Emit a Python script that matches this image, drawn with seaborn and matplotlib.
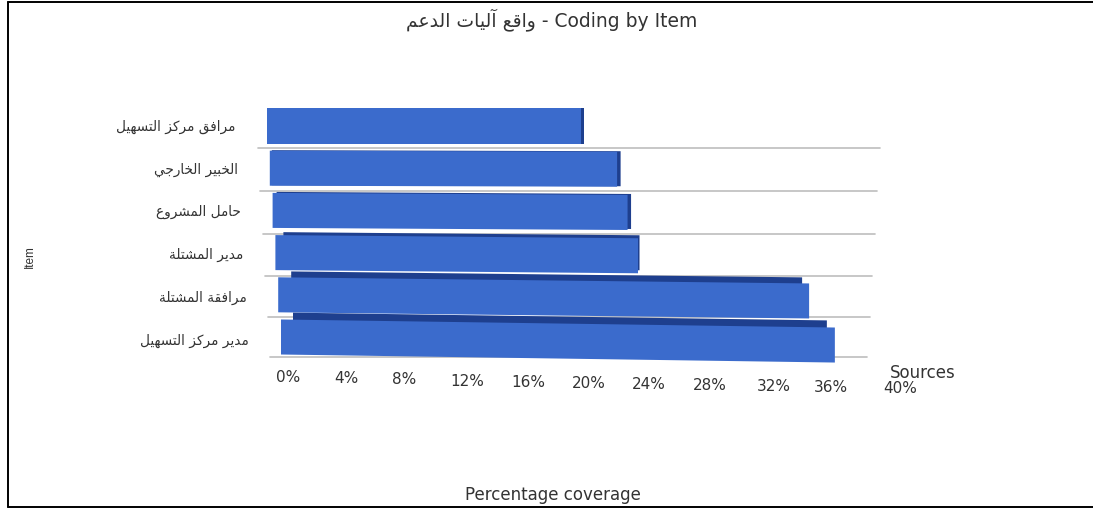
import matplotlib
matplotlib.use("Agg")
import matplotlib.pyplot as plt
import seaborn as sns
from matplotlib.lines import Line2D
from matplotlib.transforms import Affine2D

# ---------- data ----------
items = ["مرافق مركز التسهيل", "الخبير الخارجي", "حامل المشروع",
         "مدير المشتلة", "مرافقة المشتلة", "مدير مركز التسهيل"]
coverage = [20.5, 22.7, 23.2, 23.7, 34.7, 36.2]
tick_values = [0, 4, 8, 12, 16, 20, 24, 28, 32, 36, 40]
tick_labels = [f"{v}%" for v in tick_values]
title_ar = "واقع آليات الدعم"
title_en = " - Coding by Item"

# ---------- Arabic shaping (isolated, final, initial, medial) ----------
FORMS = {
    "ا": (0xFE8D, 0xFE8E), "آ": (0xFE81, 0xFE82), "د": (0xFEA9, 0xFEAA),
    "ر": (0xFEAD, 0xFEAE), "ز": (0xFEAF, 0xFEB0), "و": (0xFEED, 0xFEEE),
    "ة": (0xFE93, 0xFE94), "ب": (0xFE8F, 0xFE90, 0xFE91, 0xFE92),
    "ت": (0xFE95, 0xFE96, 0xFE97, 0xFE98), "ج": (0xFE9D, 0xFE9E, 0xFE9F, 0xFEA0),
    "ح": (0xFEA1, 0xFEA2, 0xFEA3, 0xFEA4), "خ": (0xFEA5, 0xFEA6, 0xFEA7, 0xFEA8),
    "س": (0xFEB1, 0xFEB2, 0xFEB3, 0xFEB4), "ش": (0xFEB5, 0xFEB6, 0xFEB7, 0xFEB8),
    "ع": (0xFEC9, 0xFECA, 0xFECB, 0xFECC), "ف": (0xFED1, 0xFED2, 0xFED3, 0xFED4),
    "ق": (0xFED5, 0xFED6, 0xFED7, 0xFED8), "ك": (0xFED9, 0xFEDA, 0xFEDB, 0xFEDC),
    "ل": (0xFEDD, 0xFEDE, 0xFEDF, 0xFEE0), "م": (0xFEE1, 0xFEE2, 0xFEE3, 0xFEE4),
    "ه": (0xFEE9, 0xFEEA, 0xFEEB, 0xFEEC), "ي": (0xFEF1, 0xFEF2, 0xFEF3, 0xFEF4),
}


def shape(text):
    out = []
    for i, ch in enumerate(text):
        if ch not in FORMS:
            out.append(ch)
            continue
        prev = text[i - 1] if i else " "
        nxt = text[i + 1] if i + 1 < len(text) else " "
        joins_prev = prev in FORMS and len(FORMS[prev]) == 4
        joins_next = nxt in FORMS and len(FORMS[ch]) == 4
        f = FORMS[ch]
        if joins_prev and joins_next:
            code = f[3]
        elif joins_prev:
            code = f[1]
        elif joins_next:
            code = f[2]
        else:
            code = f[0]
        out.append(chr(code))
    return "".join(reversed(out))


# ---------- figure ----------
W, H = 1093, 510
sns.set_theme(style="white")
plt.rcParams["font.family"] = ["DejaVu Sans"]
fig = plt.figure(figsize=(W / 100, H / 100), dpi=100, facecolor="white")

AX_L, PX_PER = 267.0, 15.3
AX_T, ROW_H = 105.9, 42.2
ax = fig.add_axes([AX_L / W, 1 - (AX_T + 6 * ROW_H) / H, PX_PER * 40 / W, 6 * ROW_H / H])
ax.patch.set_alpha(0)

FRONT, DARK = "#3B6BCC", "#1E3F8E"
shown = [shape(s) for s in items]
sns.barplot(x=coverage, y=shown, color=DARK, saturation=1, width=0.83, orient="h", ax=ax, linewidth=0)
sns.barplot(x=coverage, y=shown, color=FRONT, saturation=1, width=0.83, orient="h", ax=ax, linewidth=0)
ax.set_xlim(0, 40)
ax.set_ylim(5.5, -0.5)

# perspective: each row gets its own shift / slope in pixel space
row_shift = [2.8 * r for r in range(6)]
row_slope = [0.0029 * r for r in range(6)]
top_depth = [0, 0.5, 1, 3, 6, 7]
left_inset = [3, 2, 4, 8, 13, 12]
right_extra = [3.5, 3.5, 3.5, 1.5, -7, -8]


def front_tf(r):
    l = AX_L + row_shift[r]
    s = row_slope[r]
    return Affine2D().translate(row_shift[r], 0) + Affine2D.from_values(1, -s, 0, 1, 0, s * l)


patches = list(ax.patches)
for r in range(6):
    dark, front = patches[r], patches[r + 6]
    w = PX_PER * coverage[r]
    k = (w + right_extra[r] - left_inset[r]) / w
    stretch = Affine2D().translate(-AX_L, 0).scale(k, 1).translate(AX_L + left_inset[r], top_depth[r])
    dark.set_transform(ax.transData + stretch + front_tf(r))
    front.set_transform(ax.transData + front_tf(r))
    dark.set_clip_on(False)
    front.set_clip_on(False)
    dark.set_zorder(3 + r)
    front.set_zorder(3.5 + r)

# row separators converge toward the back of the plot
grid_left = [258 + 2.4 * r for r in range(6)]
grid_right = [880 - 2.6 * r for r in range(6)]
grid_nudge = [-1, -1.7, -2.5, -2.3, -1, 1]
for r in range(6):
    k = (grid_right[r] - grid_left[r]) / (PX_PER * 40)
    tf = Affine2D().translate(-AX_L, 0).scale(k, 1).translate(grid_left[r], grid_nudge[r])
    ax.plot([0, 40], [r + 0.5, r + 0.5], color="#BDBDBD", lw=1.2, zorder=1,
            transform=ax.transData + tf, clip_on=False)

sns.despine(ax=ax, left=True, bottom=True)
ax.set_xlim(0, 40)
ax.set_ylim(5.5, -0.5)

TXT = "#333333"
ax.set_xticks(tick_values)
ax.set_xticklabels(tick_labels)
ax.tick_params(axis="x", length=0, pad=8, labelsize=11, colors=TXT)
ax.tick_params(axis="y", length=0, pad=23, labelsize=9.8, colors=TXT)
label_dx = [21, 18, 15, 17, 17, 16, 15, 14, 17, 13, 21]
for i, (v, tick) in enumerate(zip(tick_values, ax.xaxis.get_major_ticks())):
    lab = tick.label1
    lab.set_transform(lab.get_transform() + Affine2D().translate(label_dx[i], -11 * v / 40))
for r, tick in enumerate(ax.yaxis.get_major_ticks()):
    lab = tick.label1
    lab.set_transform(lab.get_transform() + Affine2D().translate(row_shift[r], 2 - 0.6 * r))

fig.suptitle(shape(title_ar) + title_en, x=552 / W, y=1 - 20 / H, va="center", ha="center",
             fontsize=13.5, color=TXT)
ax.set_xlabel("Percentage coverage", fontsize=12, color=TXT)
ax.xaxis.set_label_coords(553 / W, 1 - 486 / H, transform=fig.transFigure)
ax.set_ylabel("Item", fontsize=8.5, color=TXT, family="Liberation Sans")
ax.yaxis.set_label_coords(36 / W, 1 - 257 / H, transform=fig.transFigure)
fig.text(923 / W, 1 - 373 / H, "Sources", fontsize=12, color=TXT, ha="center", va="center")

# page frame: left, top and bottom rules reach the picture's edge on the right
for xs, ys in [((8, 8), (3, 508)), ((8, W), (3, 3)), ((8, W), (508, 508))]:
    fig.add_artist(Line2D([x / W for x in xs], [1 - y / H for y in ys], color="black", lw=1.4,
                          transform=fig.transFigure))

fig.savefig("out.png", dpi=100, facecolor="white")
